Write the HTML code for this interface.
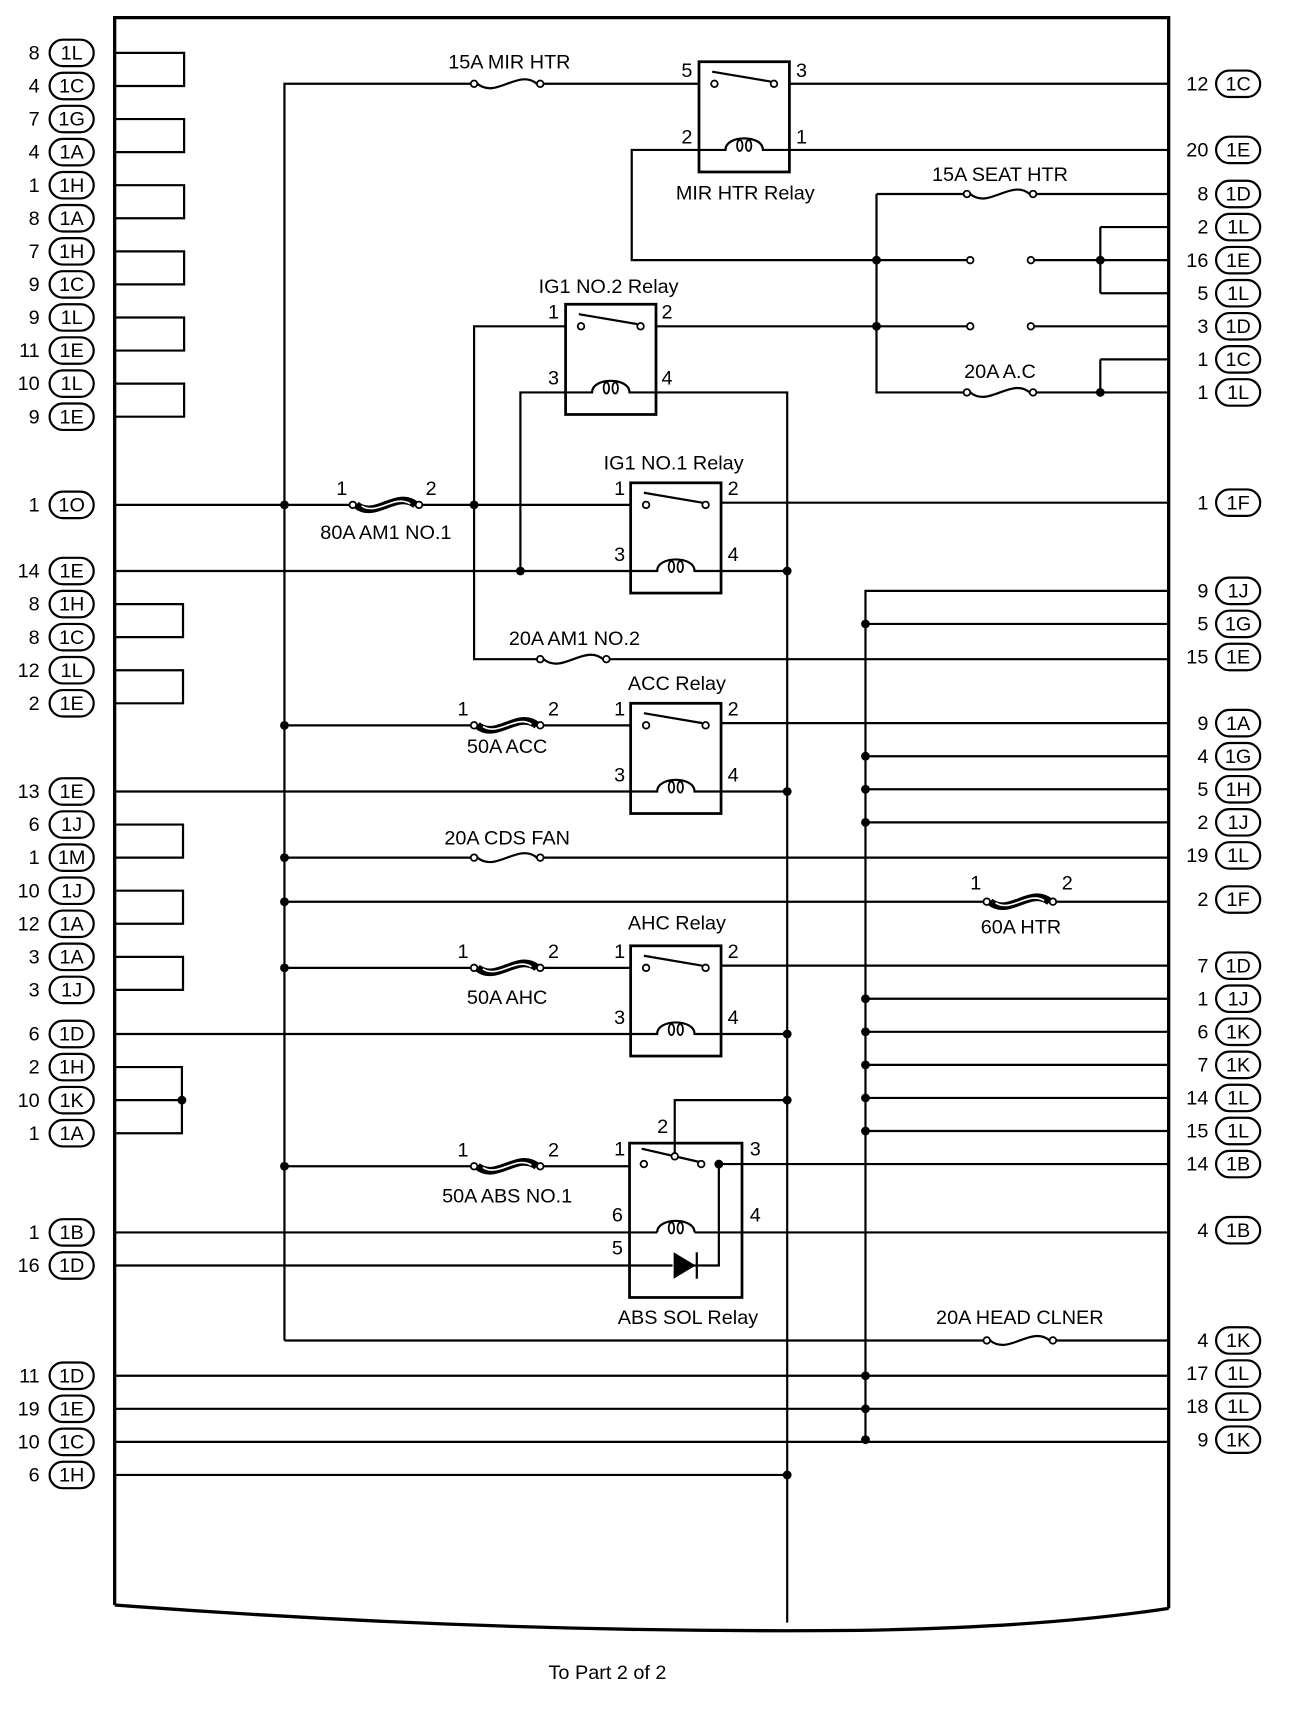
<!DOCTYPE html>
<html><head><meta charset="utf-8"><style>
html,body{margin:0;padding:0;background:#fff}
svg{display:block}
text{font-family:"Liberation Sans",sans-serif;font-size:18px;fill:#000}
</style></head><body>
<svg width="1312" height="1734" viewBox="0 0 1190 1573" preserveAspectRatio="none" xmlns="http://www.w3.org/2000/svg">
<defs>
<g id="f"><rect x="4" y="-9" width="52" height="18" fill="#fff"/><circle cx="0" cy="0" r="3" fill="#fff" stroke="#000" stroke-width="1.6"/><circle cx="60" cy="0" r="3" fill="#fff" stroke="#000" stroke-width="1.6"/><path d="M3,0 C20,14 40,-14 57,0" fill="none" stroke="#000" stroke-width="2"/></g>
<g id="F"><rect x="4" y="-9" width="52" height="18" fill="#fff"/><circle cx="0" cy="0" r="3" fill="#fff" stroke="#000" stroke-width="1.6"/><circle cx="60" cy="0" r="3" fill="#fff" stroke="#000" stroke-width="1.6"/><path d="M3,0 C20,14 40,-14 57,0" fill="none" stroke="#000" stroke-width="7"/><path d="M8,1 C22,10 38,-10 52,-1" fill="none" stroke="#fff" stroke-width="1.5"/></g>
<g id="R"><rect x="0" y="0" width="82" height="100" fill="#fff" stroke="#000" stroke-width="2.5"/>
<circle cx="14" cy="20" r="3" fill="#fff" stroke="#000" stroke-width="1.6"/><circle cx="68" cy="20" r="3" fill="#fff" stroke="#000" stroke-width="1.6"/>
<line x1="12" y1="9" x2="65" y2="18" stroke="#000" stroke-width="2"/>
<path d="M0,80 H24 C24,66 58,66 58,80 H82" fill="none" stroke="#000" stroke-width="2"/>
<ellipse cx="37" cy="76" rx="2.5" ry="5" fill="none" stroke="#000" stroke-width="1.6"/><ellipse cx="45" cy="76" rx="2.5" ry="5" fill="none" stroke="#000" stroke-width="1.6"/>
</g>
</defs>
<g stroke="#000" stroke-width="2" fill="none">
<path d="M104,1456 V16 H1060 V1459" stroke-width="3"/>
<path d="M104,1456 Q450,1482 780,1479 Q950,1476 1060,1459" stroke-width="3"/>
<path d="M104,48 H167 V78 H104 M104,108 H167 V138 H104 M104,168 H167 V198 H104 M104,228 H167 V258 H104 M104,288 H167 V318 H104 M104,348 H167 V378 H104 M104,548 H166 V578 H104 M104,608 H166 V638 H104 M104,748 H166 V778 H104 M104,808 H166 V838 H104 M104,868 H166 V898 H104 M104,968 H165 V1028 H104 M104,998 H165"/>
<path d="M258,1216 V76 H1060"/>
<path d="M714,136 H1060 M634,136 H573 V236 H880 M935,236 H1060"/>
<path d="M795,176 V356 H1060 M795,176 H1060 M998,206 V266 M998,206 H1060 M998,266 H1060 M998,326 V356 M998,326 H1060 M596,296 H880 M935,296 H1060"/>
<path d="M513,296 H430 V598 H1060 M513,356 H472 V518 M596,356 H714 V1472"/>
<path d="M104,458 H572 M654,456 H1060 M104,518 H572 M654,518 H714"/>
<path d="M1060,536 H785 V1306"/>
<path d="M785,566 H1060 M785,686 H1060 M785,716 H1060 M785,746 H1060 M785,906 H1060 M785,936 H1060 M785,966 H1060 M785,996 H1060 M785,1026 H1060"/>
<path d="M258,658 H572 M654,656 H1060 M104,718 H572 M654,718 H714"/>
<path d="M258,778 H1060 M258,818 H1060"/>
<path d="M258,878 H572 M654,876 H1060 M104,938 H572 M654,938 H714"/>
<path d="M714,998 H612 V1046 M258,1058 H571 M652,1056 H1060 M652,1056 V1148 H620 M104,1118 H596 M630,1118 H1060 M104,1148 H610"/>
<path d="M258,1216 H1060 M104,1248 H1060 M104,1278 H1060 M104,1308 H1060 M104,1338 H714"/>
</g>
<use href="#R" x="634" y="56"/>
<use href="#R" x="513" y="276"/>
<use href="#R" x="572" y="438"/>
<use href="#R" x="572" y="638"/>
<use href="#R" x="572" y="858"/>
<g stroke="#000" stroke-width="2" fill="none">
<rect x="571" y="1037" width="102" height="140" stroke-width="2.5"/>
<line x1="582" y1="1042" x2="634" y2="1054"/>
<path d="M596,1118 C596,1104 630,1104 630,1118"/>
<ellipse cx="609" cy="1114" rx="2.5" ry="5" stroke-width="1.6"/><ellipse cx="617" cy="1114" rx="2.5" ry="5" stroke-width="1.6"/>
</g>
<path d="M611,1136 L631,1148 L611,1160 Z" fill="#000"/><line x1="632" y1="1136" x2="632" y2="1160" stroke="#000" stroke-width="2"/>
<g fill="#fff" stroke="#000" stroke-width="1.6"><circle cx="584" cy="1056" r="3"/><circle cx="612" cy="1049" r="3"/><circle cx="636" cy="1056" r="3"/></g>
<use href="#f" x="430" y="76"/>
<use href="#f" x="877" y="176"/>
<use href="#f" x="877" y="356"/>
<use href="#F" x="320" y="458"/>
<use href="#f" x="490" y="598"/>
<use href="#F" x="430" y="658"/>
<use href="#f" x="430" y="778"/>
<use href="#F" x="895" y="818"/>
<use href="#F" x="430" y="878"/>
<use href="#F" x="430" y="1058"/>
<use href="#f" x="895" y="1216"/>
<g fill="#fff" stroke="#000" stroke-width="1.6"><circle cx="880" cy="236" r="3"/><circle cx="935" cy="236" r="3"/><circle cx="880" cy="296" r="3"/><circle cx="935" cy="296" r="3"/></g>
<g fill="#000">
<circle cx="795" cy="236" r="4"/><circle cx="795" cy="296" r="4"/><circle cx="998" cy="236" r="4"/><circle cx="998" cy="356" r="4"/>
<circle cx="258" cy="458" r="4"/><circle cx="430" cy="458" r="4"/><circle cx="472" cy="518" r="4"/><circle cx="714" cy="518" r="4"/>
<circle cx="785" cy="566" r="4"/><circle cx="258" cy="658" r="4"/><circle cx="785" cy="686" r="4"/><circle cx="785" cy="716" r="4"/><circle cx="714" cy="718" r="4"/><circle cx="785" cy="746" r="4"/>
<circle cx="258" cy="778" r="4"/><circle cx="258" cy="818" r="4"/><circle cx="258" cy="878" r="4"/><circle cx="785" cy="906" r="4"/><circle cx="785" cy="936" r="4"/><circle cx="714" cy="938" r="4"/><circle cx="785" cy="966" r="4"/>
<circle cx="714" cy="998" r="4"/><circle cx="785" cy="996" r="4"/><circle cx="785" cy="1026" r="4"/><circle cx="165" cy="998" r="4"/><circle cx="258" cy="1058" r="4"/><circle cx="652" cy="1056" r="4"/>
<circle cx="785" cy="1248" r="4"/><circle cx="785" cy="1278" r="4"/><circle cx="785" cy="1306" r="4"/><circle cx="714" cy="1338" r="4"/>
</g>
<g>
<text x="462" y="62" text-anchor="middle">15A MIR HTR</text>
<text x="618" y="70">5</text><text x="722" y="70">3</text><text x="618" y="130">2</text><text x="722" y="130">1</text>
<text x="676" y="181" text-anchor="middle">MIR HTR Relay</text>
<text x="907" y="164" text-anchor="middle">15A SEAT HTR</text>
<text x="907" y="343" text-anchor="middle">20A A.C</text>
<text x="552" y="266" text-anchor="middle">IG1 NO.2 Relay</text>
<text x="497" y="289">1</text><text x="600" y="289">2</text><text x="497" y="349">3</text><text x="600" y="349">4</text>
<text x="611" y="426" text-anchor="middle">IG1 NO.1 Relay</text>
<text x="557" y="449">1</text><text x="660" y="449">2</text><text x="557" y="509">3</text><text x="660" y="509">4</text>
<text x="305" y="449">1</text><text x="386" y="449">2</text>
<text x="350" y="489" text-anchor="middle">80A AM1 NO.1</text>
<text x="521" y="585" text-anchor="middle">20A AM1 NO.2</text>
<text x="614" y="626" text-anchor="middle">ACC Relay</text>
<text x="557" y="649">1</text><text x="660" y="649">2</text><text x="557" y="709">3</text><text x="660" y="709">4</text>
<text x="415" y="649">1</text><text x="497" y="649">2</text>
<text x="460" y="683" text-anchor="middle">50A ACC</text>
<text x="460" y="766" text-anchor="middle">20A CDS FAN</text>
<text x="880" y="807">1</text><text x="963" y="807">2</text>
<text x="926" y="847" text-anchor="middle">60A HTR</text>
<text x="614" y="843" text-anchor="middle">AHC Relay</text>
<text x="557" y="869">1</text><text x="660" y="869">2</text><text x="557" y="929">3</text><text x="660" y="929">4</text>
<text x="415" y="869">1</text><text x="497" y="869">2</text>
<text x="460" y="911" text-anchor="middle">50A AHC</text>
<text x="596" y="1028">2</text><text x="557" y="1048">1</text><text x="680" y="1048">3</text>
<text x="555" y="1108">6</text><text x="680" y="1108">4</text><text x="555" y="1138">5</text>
<text x="415" y="1049">1</text><text x="497" y="1049">2</text>
<text x="460" y="1091" text-anchor="middle">50A ABS NO.1</text>
<text x="624" y="1201" text-anchor="middle">ABS SOL Relay</text>
<text x="925" y="1201" text-anchor="middle">20A HEAD CLNER</text>
<text x="551" y="1523" text-anchor="middle">To Part 2 of 2</text>
</g>
<g fill="#fff" stroke="#000" stroke-width="2">
<rect x="45" y="36" width="40" height="24" rx="12"/><rect x="45" y="66" width="40" height="24" rx="12"/><rect x="45" y="96" width="40" height="24" rx="12"/><rect x="45" y="126" width="40" height="24" rx="12"/><rect x="45" y="156" width="40" height="24" rx="12"/><rect x="45" y="186" width="40" height="24" rx="12"/><rect x="45" y="216" width="40" height="24" rx="12"/><rect x="45" y="246" width="40" height="24" rx="12"/><rect x="45" y="276" width="40" height="24" rx="12"/><rect x="45" y="306" width="40" height="24" rx="12"/><rect x="45" y="336" width="40" height="24" rx="12"/><rect x="45" y="366" width="40" height="24" rx="12"/>
<rect x="45" y="446" width="40" height="24" rx="12"/><rect x="45" y="506" width="40" height="24" rx="12"/><rect x="45" y="536" width="40" height="24" rx="12"/><rect x="45" y="566" width="40" height="24" rx="12"/><rect x="45" y="596" width="40" height="24" rx="12"/><rect x="45" y="626" width="40" height="24" rx="12"/>
<rect x="45" y="706" width="40" height="24" rx="12"/><rect x="45" y="736" width="40" height="24" rx="12"/><rect x="45" y="766" width="40" height="24" rx="12"/><rect x="45" y="796" width="40" height="24" rx="12"/><rect x="45" y="826" width="40" height="24" rx="12"/><rect x="45" y="856" width="40" height="24" rx="12"/><rect x="45" y="886" width="40" height="24" rx="12"/>
<rect x="45" y="926" width="40" height="24" rx="12"/><rect x="45" y="956" width="40" height="24" rx="12"/><rect x="45" y="986" width="40" height="24" rx="12"/><rect x="45" y="1016" width="40" height="24" rx="12"/>
<rect x="45" y="1106" width="40" height="24" rx="12"/><rect x="45" y="1136" width="40" height="24" rx="12"/>
<rect x="45" y="1236" width="40" height="24" rx="12"/><rect x="45" y="1266" width="40" height="24" rx="12"/><rect x="45" y="1296" width="40" height="24" rx="12"/><rect x="45" y="1326" width="40" height="24" rx="12"/>
</g>
<g text-anchor="end">
<text x="36" y="54">8</text><text x="36" y="84">4</text><text x="36" y="114">7</text><text x="36" y="144">4</text><text x="36" y="174">1</text><text x="36" y="204">8</text><text x="36" y="234">7</text><text x="36" y="264">9</text><text x="36" y="294">9</text><text x="36" y="324">11</text><text x="36" y="354">10</text><text x="36" y="384">9</text>
<text x="36" y="464">1</text><text x="36" y="524">14</text><text x="36" y="554">8</text><text x="36" y="584">8</text><text x="36" y="614">12</text><text x="36" y="644">2</text>
<text x="36" y="724">13</text><text x="36" y="754">6</text><text x="36" y="784">1</text><text x="36" y="814">10</text><text x="36" y="844">12</text><text x="36" y="874">3</text><text x="36" y="904">3</text>
<text x="36" y="944">6</text><text x="36" y="974">2</text><text x="36" y="1004">10</text><text x="36" y="1034">1</text>
<text x="36" y="1124">1</text><text x="36" y="1154">16</text>
<text x="36" y="1254">11</text><text x="36" y="1284">19</text><text x="36" y="1314">10</text><text x="36" y="1344">6</text>
</g>
<g text-anchor="middle">
<text x="65" y="54">1L</text><text x="65" y="84">1C</text><text x="65" y="114">1G</text><text x="65" y="144">1A</text><text x="65" y="174">1H</text><text x="65" y="204">1A</text><text x="65" y="234">1H</text><text x="65" y="264">1C</text><text x="65" y="294">1L</text><text x="65" y="324">1E</text><text x="65" y="354">1L</text><text x="65" y="384">1E</text>
<text x="65" y="464">1O</text><text x="65" y="524">1E</text><text x="65" y="554">1H</text><text x="65" y="584">1C</text><text x="65" y="614">1L</text><text x="65" y="644">1E</text>
<text x="65" y="724">1E</text><text x="65" y="754">1J</text><text x="65" y="784">1M</text><text x="65" y="814">1J</text><text x="65" y="844">1A</text><text x="65" y="874">1A</text><text x="65" y="904">1J</text>
<text x="65" y="944">1D</text><text x="65" y="974">1H</text><text x="65" y="1004">1K</text><text x="65" y="1034">1A</text>
<text x="65" y="1124">1B</text><text x="65" y="1154">1D</text>
<text x="65" y="1254">1D</text><text x="65" y="1284">1E</text><text x="65" y="1314">1C</text><text x="65" y="1344">1H</text>
</g>
<g fill="#fff" stroke="#000" stroke-width="2">
<rect x="1103" y="64" width="40" height="24" rx="12"/><rect x="1103" y="124" width="40" height="24" rx="12"/><rect x="1103" y="164" width="40" height="24" rx="12"/><rect x="1103" y="194" width="40" height="24" rx="12"/><rect x="1103" y="224" width="40" height="24" rx="12"/><rect x="1103" y="254" width="40" height="24" rx="12"/><rect x="1103" y="284" width="40" height="24" rx="12"/><rect x="1103" y="314" width="40" height="24" rx="12"/><rect x="1103" y="344" width="40" height="24" rx="12"/>
<rect x="1103" y="444" width="40" height="24" rx="12"/><rect x="1103" y="524" width="40" height="24" rx="12"/><rect x="1103" y="554" width="40" height="24" rx="12"/><rect x="1103" y="584" width="40" height="24" rx="12"/>
<rect x="1103" y="644" width="40" height="24" rx="12"/><rect x="1103" y="674" width="40" height="24" rx="12"/><rect x="1103" y="704" width="40" height="24" rx="12"/><rect x="1103" y="734" width="40" height="24" rx="12"/><rect x="1103" y="764" width="40" height="24" rx="12"/><rect x="1103" y="804" width="40" height="24" rx="12"/>
<rect x="1103" y="864" width="40" height="24" rx="12"/><rect x="1103" y="894" width="40" height="24" rx="12"/><rect x="1103" y="924" width="40" height="24" rx="12"/><rect x="1103" y="954" width="40" height="24" rx="12"/><rect x="1103" y="984" width="40" height="24" rx="12"/><rect x="1103" y="1014" width="40" height="24" rx="12"/><rect x="1103" y="1044" width="40" height="24" rx="12"/><rect x="1103" y="1104" width="40" height="24" rx="12"/>
<rect x="1103" y="1204" width="40" height="24" rx="12"/><rect x="1103" y="1234" width="40" height="24" rx="12"/><rect x="1103" y="1264" width="40" height="24" rx="12"/><rect x="1103" y="1294" width="40" height="24" rx="12"/>
</g>
<g text-anchor="end">
<text x="1096" y="82">12</text><text x="1096" y="142">20</text><text x="1096" y="182">8</text><text x="1096" y="212">2</text><text x="1096" y="242">16</text><text x="1096" y="272">5</text><text x="1096" y="302">3</text><text x="1096" y="332">1</text><text x="1096" y="362">1</text>
<text x="1096" y="462">1</text><text x="1096" y="542">9</text><text x="1096" y="572">5</text><text x="1096" y="602">15</text>
<text x="1096" y="662">9</text><text x="1096" y="692">4</text><text x="1096" y="722">5</text><text x="1096" y="752">2</text><text x="1096" y="782">19</text><text x="1096" y="822">2</text>
<text x="1096" y="882">7</text><text x="1096" y="912">1</text><text x="1096" y="942">6</text><text x="1096" y="972">7</text><text x="1096" y="1002">14</text><text x="1096" y="1032">15</text><text x="1096" y="1062">14</text><text x="1096" y="1122">4</text>
<text x="1096" y="1222">4</text><text x="1096" y="1252">17</text><text x="1096" y="1282">18</text><text x="1096" y="1312">9</text>
</g>
<g text-anchor="middle">
<text x="1123" y="82">1C</text><text x="1123" y="142">1E</text><text x="1123" y="182">1D</text><text x="1123" y="212">1L</text><text x="1123" y="242">1E</text><text x="1123" y="272">1L</text><text x="1123" y="302">1D</text><text x="1123" y="332">1C</text><text x="1123" y="362">1L</text>
<text x="1123" y="462">1F</text><text x="1123" y="542">1J</text><text x="1123" y="572">1G</text><text x="1123" y="602">1E</text>
<text x="1123" y="662">1A</text><text x="1123" y="692">1G</text><text x="1123" y="722">1H</text><text x="1123" y="752">1J</text><text x="1123" y="782">1L</text><text x="1123" y="822">1F</text>
<text x="1123" y="882">1D</text><text x="1123" y="912">1J</text><text x="1123" y="942">1K</text><text x="1123" y="972">1K</text><text x="1123" y="1002">1L</text><text x="1123" y="1032">1L</text><text x="1123" y="1062">1B</text><text x="1123" y="1122">1B</text>
<text x="1123" y="1222">1K</text><text x="1123" y="1252">1L</text><text x="1123" y="1282">1L</text><text x="1123" y="1312">1K</text>
</g>
</svg>
</body></html>
